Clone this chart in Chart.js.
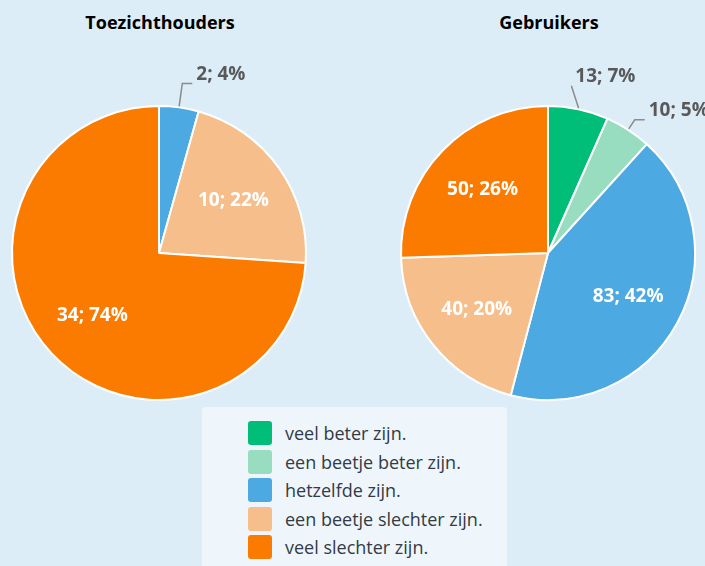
<!DOCTYPE html>
<html lang="nl">
<head>
<meta charset="utf-8">
<script src="https://cdn.jsdelivr.net/npm/chart.js@4.4.1/dist/chart.umd.min.js"></script>
<style>
  body { margin: 0; width: 705px; height: 566px; overflow: hidden; background: #DDEDF8; font-family: "Open Sans", sans-serif; position: relative; }
  canvas { position: absolute; top: 0; }
  .titel { position: absolute; top: 10px; width: 240px; text-align: center; font-weight: bold; font-size: 18px; line-height: 24px; color: #000; }
  #legenda { position: absolute; left: 202px; top: 407px; width: 305px; height: 170px; background: #EEF6FC; border-radius: 4px; }
  .rij { position: absolute; left: 46px; height: 24px; display: flex; align-items: center; }
  .blokje { width: 24px; height: 24px; border-radius: 3px; margin-right: 13px; flex: none; }
  .tekst { font-size: 18px; color: #333B44; white-space: nowrap; }
</style>
</head>
<body>
<div class="titel" style="left:40px">Toezichthouders</div>
<div class="titel" style="left:429px">Gebruikers</div>
<canvas id="links" width="352" height="420" style="left:0"></canvas>
<canvas id="rechts" width="353" height="420" style="left:352px"></canvas>
<div id="legenda"></div>
<script>
// categorieën (antwoorden) en waarden per groep
const categorieen = ['veel beter zijn.', 'een beetje beter zijn.', 'hetzelfde zijn.', 'een beetje slechter zijn.', 'veel slechter zijn.'];
const toezichthouders = [0, 0, 2, 10, 34];
const gebruikers = [13, 10, 83, 40, 50];
const kleuren = ['#00BE78', '#98DDC0', '#4CA9E1', '#F5BE8A', '#FA7B00'];

// legenda in HTML opbouwen
const legenda = document.getElementById('legenda');
categorieen.forEach((naam, i) => {
    const rij = document.createElement('div');
    rij.className = 'rij';
    rij.style.top = (14 + i * 28.5) + 'px';
    rij.innerHTML = `<div class="blokje" style="background:${kleuren[i]}"></div><span class="tekst">${naam}</span>`;
    legenda.appendChild(rij);
});

// labels "aantal; procent" in of naast de taartpunten
const labelPlugin = {
    id: 'taartLabels',
    afterDatasetsDraw(chart, args, opts) {
        const ctx = chart.ctx;
        const data = chart.data.datasets[0].data;
        const totaal = data.reduce((a, b) => a + b, 0);
        const meta = chart.getDatasetMeta(0);
        ctx.save();
        ctx.font = 'bold 19px "Open Sans"';
        meta.data.forEach((boog, i) => {
            const v = data[i];
            if (!v) return;
            const tekst = v + '; ' + Math.round(v / totaal * 100) + '%';
            const p = boog.getProps(['x', 'y', 'startAngle', 'endAngle', 'outerRadius'], true);
            const mid = (p.startAngle + p.endAngle) / 2;
            const dx = Math.cos(mid), dy = Math.sin(mid);
            const buiten = opts.buiten[i];
            if (buiten) {
                // lijntje naar buiten, dan tekst
                const [lengte, horiz, schuif] = buiten;
                const x0 = p.x + dx * (p.outerRadius + 1), y0 = p.y + dy * (p.outerRadius + 1);
                const x1 = p.x + dx * (p.outerRadius + lengte) + schuif, y1 = p.y + dy * (p.outerRadius + lengte);
                ctx.strokeStyle = '#8C8C8C';
                ctx.lineWidth = 1.5;
                ctx.beginPath();
                ctx.moveTo(x0, y0);
                ctx.lineTo(x1, y1);
                ctx.lineTo(x1 + horiz, y1);
                ctx.stroke();
                ctx.fillStyle = '#595959';
                ctx.textAlign = 'left';
                ctx.textBaseline = 'middle';
                ctx.fillText(tekst, x1 + horiz + 4, y1 - 9);
            } else {
                const r = p.outerRadius * 0.62;
                ctx.fillStyle = '#FFFFFF';
                ctx.textAlign = 'center';
                ctx.textBaseline = 'middle';
                ctx.fillText(tekst, p.x + dx * r, p.y + dy * r);
            }
        });
        ctx.restore();
    }
};

function maakTaart(id, waarden, padding, buiten) {
    new Chart(document.getElementById(id), {
        type: 'pie',
        data: {
            labels: categorieen,
            datasets: [{
                data: waarden,
                backgroundColor: kleuren,
                borderColor: '#FFFFFF',
                borderWidth: 2
            }]
        },
        options: {
            responsive: false,
            animation: false,
            events: [],
            layout: { padding: padding },
            plugins: {
                legend: { display: false },
                tooltip: { enabled: false },
                taartLabels: { buiten: buiten }
            }
        },
        plugins: [labelPlugin]
    });
}

maakTaart('links', toezichthouders, { left: 11, top: 105, right: 45, bottom: 19 }, { 2: [24, 10, 0] });
maakTaart('rechts', gebruikers, { left: 48, top: 105, right: 9, bottom: 19 }, { 0: [24, 0, -12], 1: [12, 10, 0] });
</script>
</body>
</html>
